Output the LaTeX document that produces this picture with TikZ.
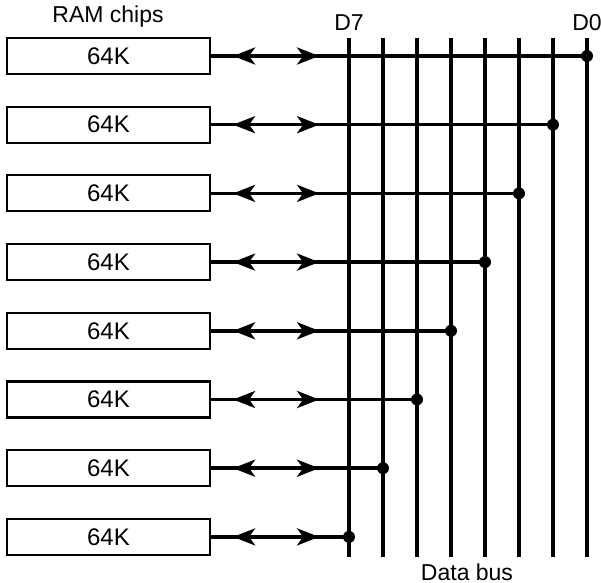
\documentclass[tikz,border=0pt]{standalone}
\usepackage{fontspec}
\setmainfont{Liberation Sans}
\usetikzlibrary{arrows.meta,decorations.markings,positioning}

\begin{document}
\begin{tikzpicture}[x=0.5pt,y=-0.5pt,
    chip/.style={draw,line width=1.1pt,minimum width=101.5pt,minimum height=18pt,inner sep=0pt,font=\fontsize{12}{14}\selectfont},
    busline/.style={line width=1.8pt},
    link/.style={line width=1.8pt,postaction={decorate},decoration={markings,
        mark=at position 22pt with {\arrow{Stealth[length=11pt,width=8.5pt,inset=3pt,reversed]}},
        mark=at position 54pt with {\arrow{Stealth[length=11pt,width=8.5pt,inset=3pt]}}}},
    tap/.style={circle,fill,inner sep=0pt,minimum size=6pt},
    lbl/.style={font=\fontsize{11.5}{14}\selectfont}]
  \useasboundingbox (0,0) rectangle (601,583);
  % data bus, D0 on the right
  \foreach \i in {0,...,7}{
    \coordinate (top\i) at (587-34*\i,38);
    \coordinate (bot\i) at (587-34*\i,557);
    \draw[busline] (top\i) -- (bot\i);}
  % one chip per bit
  \foreach \i in {0,...,7}{
    \node[chip] (chip\i) at (108.5,56+68.7*\i) {64K};
    \node[tap] (tap\i) at (chip\i -| top\i) {};
    \draw[link] (chip\i) -- (tap\i.center);}
  \node[lbl] (ramlbl) at (108,17) {RAM chips};
  \node[lbl] (dseven) at (349,23) {D7};
  \node[lbl] (dzero) at (587,23) {D0};
  \node[lbl] (buslbl) at (467,572) {Data bus};
\end{tikzpicture}
\end{document}
